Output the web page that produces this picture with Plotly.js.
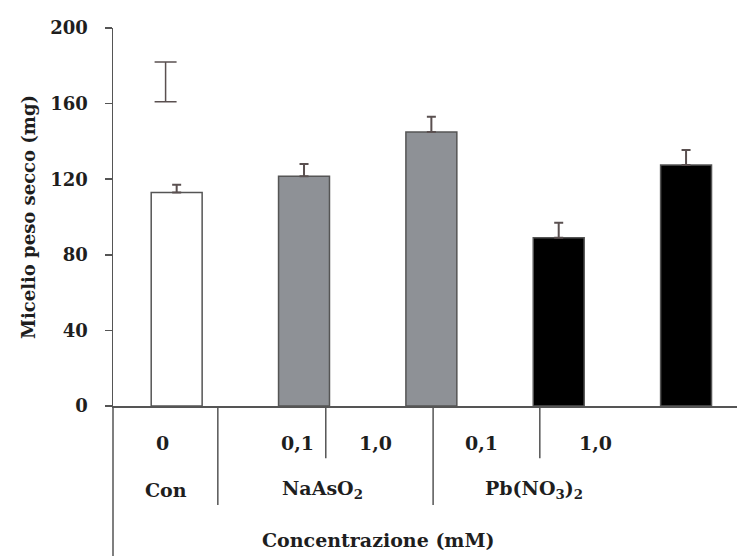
<!DOCTYPE html>
<html>
<head>
<meta charset="utf-8">
<script src="https://cdn.plot.ly/plotly-3.0.1.min.js"></script>
<style>html,body{margin:0;padding:0;background:#fff;}#chart{width:737px;height:556px;}</style>
</head>
<body>
<div id="chart"></div>
<script>
// ---- data ----
const categories = ['Con 0', 'NaAsO2 0,1', 'NaAsO2 1,0', 'Pb(NO3)2 0,1', 'Pb(NO3)2 1,0'];
const values = [113, 121.5, 145, 89, 127.5];
const errors = [4, 6.5, 8, 8, 8];
const barColors = ['#ffffff', '#8e9196', '#8e9196', '#000000', '#000000'];
const tickLabels = ['0', '0,1', '1,0', '0,1', '1,0'];
const groupLabels = ['Con', 'NaAsO<sub>2</sub>', 'Pb(NO<sub>3</sub>)<sub>2</sub>'];
const axisTitleX = 'Concentrazione (mM)';
const axisTitleY = 'Micelio peso secco (mg)';
const strayCategory = ['Con 0'];
const strayValue = [171.5];
const strayError = [10.5];

const serif = '"DejaVu Serif", "Liberation Serif", serif';
const ink = '#5a5050';
const txt = '#1e1e1e';

const traces = [
  {
    type: 'bar', x: categories, y: values, width: 0.4,
    marker: {color: barColors, line: {color: '#555', width: 1.5}},
    error_y: {type: 'data', symmetric: false, array: errors, arrayminus: errors.map(() => 0),
              color: ink, thickness: 2, width: 4.5},
    hoverinfo: 'x+y'
  },
  {
    type: 'bar', x: strayCategory, y: strayValue, width: 0.02, offset: -0.097,
    marker: {color: 'rgba(0,0,0,0)', line: {width: 0}},
    error_y: {type: 'data', array: strayError, color: ink, thickness: 1.5, width: 11},
    hoverinfo: 'skip'
  }
];

// label table positions (paper coords)
const tickX = [0.080, 0.295, 0.420, 0.591, 0.774];
const groupX = [0.085, 0.335, 0.675];
const labelFont = {family: serif, size: 19, color: txt, weight: 'bold'};
const annotations = [];
tickLabels.forEach((t, i) => annotations.push({xref: 'paper', yref: 'paper', x: tickX[i], y: -0.098,
  text: t, showarrow: false, font: labelFont, xanchor: 'center', yanchor: 'middle'}));
groupLabels.forEach((t, i) => annotations.push({xref: 'paper', yref: 'paper', x: groupX[i], y: -0.222,
  text: t, showarrow: false, font: labelFont, xanchor: 'center', yanchor: 'middle'}));
annotations.push({xref: 'paper', yref: 'paper', x: 0.425, y: -0.354, text: axisTitleX,
  showarrow: false, font: labelFont, xanchor: 'center', yanchor: 'middle'});

const lineStyle = {color: '#555', width: 1.5};
const shapes = [
  {type: 'line', xref: 'paper', yref: 'paper', x0: 0, x1: 0, y0: 0, y1: -0.4, line: lineStyle},
  {type: 'line', xref: 'paper', yref: 'paper', x0: 0.168, x1: 0.168, y0: 0, y1: -0.262, line: lineStyle},
  {type: 'line', xref: 'paper', yref: 'paper', x0: 0.341, x1: 0.341, y0: 0, y1: -0.138, line: lineStyle},
  {type: 'line', xref: 'paper', yref: 'paper', x0: 0.513, x1: 0.513, y0: 0, y1: -0.262, line: lineStyle},
  {type: 'line', xref: 'paper', yref: 'paper', x0: 0.684, x1: 0.684, y0: 0, y1: -0.138, line: lineStyle}
];

const layout = {
  width: 737, height: 556,
  margin: {l: 113, r: 0, t: 28, b: 150},
  paper_bgcolor: '#fff', plot_bgcolor: '#fff',
  showlegend: false, barmode: 'overlay',
  xaxis: {type: 'category', categoryorder: 'array', categoryarray: categories,
          range: [-0.5, 4.4], showticklabels: false, ticks: '', showgrid: false,
          zeroline: false, showline: true, linecolor: '#555', linewidth: 1.5, fixedrange: true},
  yaxis: {range: [0, 200], tickvals: [0, 40, 80, 120, 160, 200], ticks: 'outside', ticklen: 7,
          tickcolor: '#555', tickwidth: 1.5, showline: true, linecolor: '#555', linewidth: 1.5,
          showgrid: false, zeroline: false, ticklabelstandoff: 13,
          tickfont: {family: serif, size: 18, color: txt, weight: 'bold'},
          title: {text: axisTitleY, standoff: 10,
                  font: {family: serif, size: 18, color: txt, weight: 'bold'}}},
  annotations: annotations,
  shapes: shapes
};

Plotly.newPlot('chart', traces, layout, {displayModeBar: false, staticPlot: true});
</script>
</body>
</html>
